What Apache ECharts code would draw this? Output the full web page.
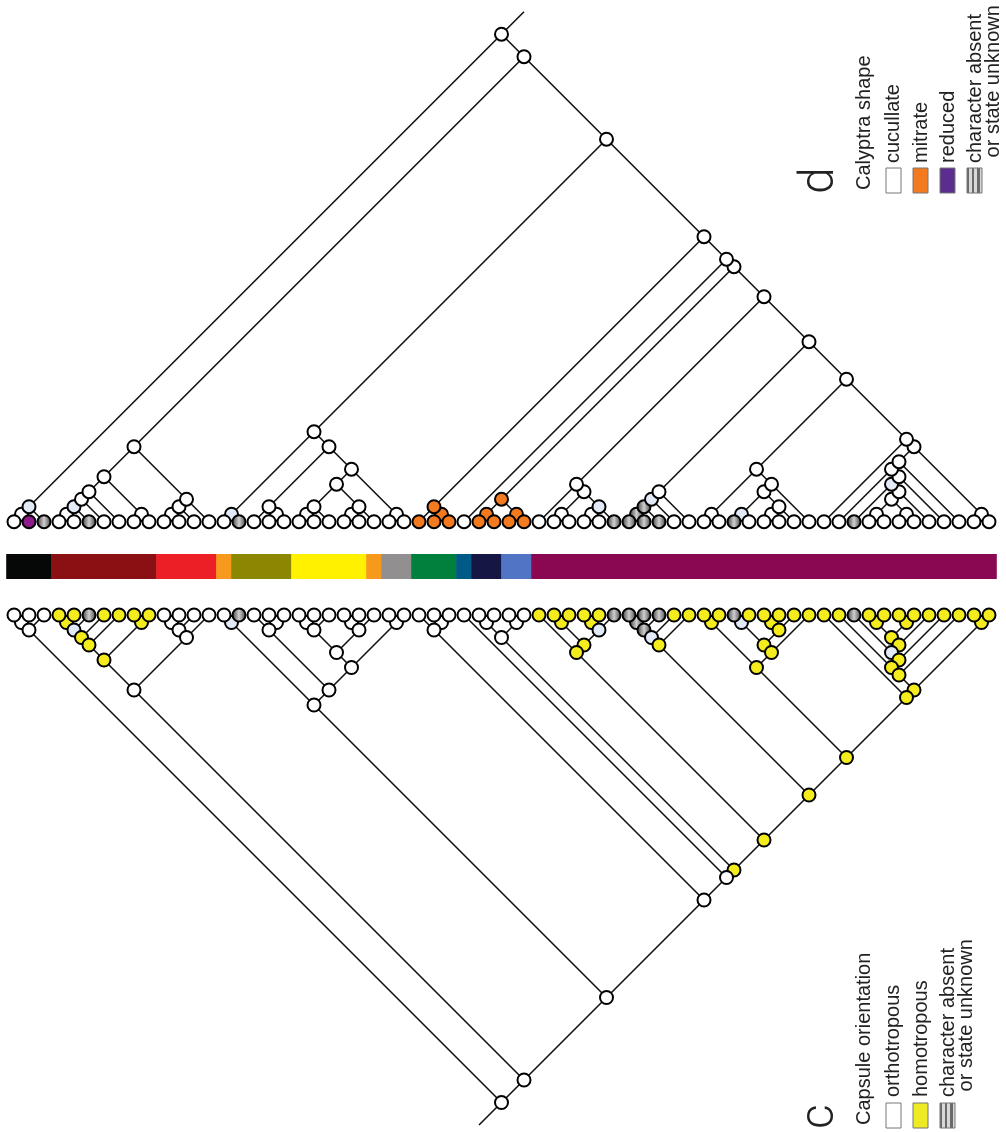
<!DOCTYPE html>
<html><head><meta charset="utf-8">
<script src="https://cdn.jsdelivr.net/npm/echarts@6/dist/echarts.min.js"></script>
<style>html,body{margin:0;padding:0;background:#fff}#c{width:1006px;height:1132px}</style>
</head><body><div id="c"></div>
<script>
// ---------- DATA ----------
// tree topology (tip numbers = left-to-right order of the 66 terminals)
const cladeA = "((0,1),2)";
const cladeB = "((((((3,4),5),6),7),(8,9)),(((10,11),12),13))";
const cladeC = "((14,15),((16,(17,18)),((((19,20),21),((22,23),24)),(25,26))))";
const clade46 = "(((46,47),(((48,49),((50,51),52)),53)),(54,(((55,((56,(((57,58),(59,60)),61)),62)),63),(64,65))))";
const clade41 = "(((((41,42),43),44),45)," + clade46 + ")";
const clade35 = "((35,((36,37),((38,39),40)))," + clade41 + ")";
const clade31 = "(((31,32),(33,34))," + clade35 + ")";
const cladeD = "((27,(28,29)),(30," + clade31 + "))";
const treeNewick = "(" + cladeA + ",(" + cladeB + ",(" + cladeC + "," + cladeD + ")))";

// state codes: w = white, o = orange, p = purple, g = absent/unknown, b = ambiguous (pale), y = yellow
const calyptraTips = "wpgwwgwwww" + "wwwwwgwwww" + "wwwwwwwooo" + "woooowwwww" + "ggggwwwwgw" + "wwwwwwgwww" + "wwwwww";
const calyptraNodes = [[0,2,'b'],[3,5,'b'],[14,15,'b'],[27,29,'o'],[28,29,'o'],[31,34,'o'],[31,32,'o'],[33,34,'o'],
  [38,40,'b'],[41,42,'g'],[41,43,'g'],[41,44,'b'],[48,49,'b'],[56,61,'b']];
const capsuleTips = "wwwyygyyyy" + "wwwwwgwwww" + "wwwwwwwwww" + "wwwwwyyyyy" + "ggggyyyygy" + "yyyyyygyyy" + "yyyyyy";
const capsuleNodes = [[3,4,'y'],[3,5,'b'],[3,6,'y'],[3,7,'y'],[3,9,'y'],[8,9,'y'],[14,15,'b'],[36,37,'y'],[38,39,'y'],
  [38,40,'b'],[36,40,'y'],[35,40,'y'],[41,42,'g'],[41,43,'g'],[41,44,'b'],[41,45,'y'],[46,47,'y'],[48,49,'b'],
  [50,51,'y'],[50,52,'y'],[48,52,'y'],[48,53,'y'],[46,53,'y'],[57,58,'y'],[59,60,'y'],[57,60,'y'],[57,61,'y'],
  [56,61,'b'],[56,62,'y'],[55,62,'y'],[55,63,'y'],[64,65,'y'],[55,65,'y'],[54,65,'y'],[46,65,'y'],[41,65,'y'],
  [35,65,'y'],[31,65,'y']];

// taxonomic colour bar: number of terminals per group and colours
const barCounts = [3,7,4,1,4,5,1,2,3,1,2,2,31];
const barColors = ['#050807','#8a1014','#ed1f26','#f7991c','#8c8700','#fff100','#f7991c','#918f90','#00803c','#005a87','#161645','#5274c4','#8a0752'];

// legends
const legendTop = {letter:'d', title:'Calyptra shape', labels:['cucullate','mitrate','reduced','character absent',' or state unknown'], codes:['w','o','r','g']};
const legendBottom = {letter:'c', title:'Capsule orientation', labels:['orthotropous','homotropous','character absent',' or state unknown'], codes:['w','y','g']};

// ---------- BUILD ----------
function parse(s){
  let i=0;
  function node(){
    if(s[i]==='('){
      i++; const kids=[node()];
      while(s[i]===','){ i++; kids.push(node()); }
      i++;
      return {kids, lo:kids[0].lo, hi:kids[kids.length-1].hi};
    }
    let t=''; while(/\d/.test(s[i])) t+=s[i++];
    const n=+t; return {tip:n, lo:n, hi:n};
  }
  return node();
}
const root = parse(treeNewick);
const internals=[], tips=[], edges=[];
(function walk(n){
  n.x=(n.lo+n.hi)/2; n.h=(n.hi-n.lo)/2;
  if(n.kids){ n.kids.forEach(k=>{ walk(k); edges.push([[n.x,n.h],[k.x,k.h]]); }); internals.push(n); }
  else tips.push(n);
})(root);

const grayGrad = {type:'linear',x:0,y:0,x2:1,y2:0,colorStops:[{offset:0,color:'#333'},{offset:0.5,color:'#cfcfcf'},{offset:1,color:'#3a3a3a'}]};
const stripe = {type:'linear',x:0,y:0,x2:1,y2:0,colorStops:(function(){const a=[];const n=6;for(let k=0;k<n;k++){const c=k%2?'#d8d8d8':'#6a6a6a';a.push({offset:k/n,color:c},{offset:(k+1)/n,color:c});}return a;})()};
const fills = {w:'#ffffff', o:'#f47a20', p:'#8d1b8c', r:'#5b2d8e', g:grayGrad, b:'#e3eaf7', y:'#f4ec1d'};
const legendFills = {w:'#ffffff', o:'#f47a20', r:'#5b2d8e', g:stripe, y:'#eeea24'};

function nodeData(nodeStates, tipStates){
  const m={}; nodeStates.forEach(s=>{m[s[0]+'-'+s[1]]=s[2];});
  const inner = internals.map(n=>({value:[n.x,n.h], itemStyle:{color:fills[m[n.lo+'-'+n.hi]||'w']}}));
  const tp = tips.map(n=>({value:[n.x,n.h], itemStyle:{color:fills[tipStates[n.tip]]}}));
  return inner.concat(tp);
}
const stemTop = [[root.x,root.h],[root.x+1.5,root.h+1.5]];
const stemBottom = [[root.x,root.h],[root.x-1.5,root.h+1.5]];

const segs=[]; let acc=0; barCounts.forEach((c,i)=>{segs.push({value:[acc,acc+c-1], itemStyle:{color:barColors[i]}}); acc+=c;});

const TIP=15, LEFT=14, W=65*TIP, TOPY=521.7, BOTY=615;
function lineSeries(ax, extra){
  return {type:'lines', coordinateSystem:'cartesian2d', xAxisIndex:ax, yAxisIndex:ax, polyline:false, silent:true, z:1,
    lineStyle:{color:'#111', width:1.6, opacity:1, curveness:0}, data: edges.concat([extra]).map(e=>({coords:e}))};
}
function nodeSeries(ax, data){
  return {type:'scatter', xAxisIndex:ax, yAxisIndex:ax, symbol:'circle', symbolSize:13, clip:false, silent:true, z:3,
    itemStyle:{borderColor:'#000', borderWidth:2, opacity:1}, data};
}

function legendGraphics(L, xs, yTitle, yItems, yBox){
  const g=[]; const font=s=>s+'px "Liberation Sans", Arial, sans-serif';
  g.push({type:'text', x:821, y:yTitle+4, rotation:Math.PI/2, style:{text:L.letter, font:'300 48px Roboto, "Liberation Sans", sans-serif', fill:'#222', align:'left', verticalAlign:'middle'}});
  g.push({type:'text', x:864, y:yTitle, rotation:Math.PI/2, style:{text:L.title, font:font(20), fill:'#222', align:'left', verticalAlign:'middle'}});
  L.labels.forEach((t,i)=>{ g.push({type:'text', x:xs[i], y:yItems, rotation:Math.PI/2, style:{text:t, font:font(20), fill:'#222', align:'left', verticalAlign:'middle'}}); });
  const bx=[886,913,940,967];
  L.codes.forEach((c,i)=>{ g.push({type:'rect', shape:{x:bx[i], y:yBox, width:15, height:25}, style:{fill:legendFills[c], stroke:'#777', lineWidth:1}}); });
  return g;
}

const chart = echarts.init(document.getElementById('c'), null, {renderer:'canvas'});
chart.setOption({
  backgroundColor:'#fff', animation:false,
  grid:[
    {left:LEFT, top:0, width:W, height:TOPY},
    {left:LEFT, top:BOTY, width:W, height:1132-BOTY},
    {left:LEFT, top:554, width:W, height:25}
  ],
  xAxis:[0,1,2].map(i=>({type:'value', gridIndex:i, min:0, max:65, show:false})),
  yAxis:[
    {type:'value', gridIndex:0, min:0, max:TOPY/TIP, show:false},
    {type:'value', gridIndex:1, min:0, max:(1132-BOTY)/TIP, inverse:true, show:false},
    {type:'value', gridIndex:2, min:0, max:1, show:false}
  ],
  series:[
    {type:'custom', xAxisIndex:2, yAxisIndex:2, silent:true, clip:false, encode:{x:[0,1]},
      renderItem:(p,api)=>{ const a=api.coord([api.value(0)-0.5,1]), b=api.coord([api.value(1)+0.5,0]);
        return {type:'rect', shape:{x:a[0]-0.3, y:a[1], width:b[0]-a[0]+0.6, height:b[1]-a[1]}, style:{fill:api.visual('color')}}; },
      data:segs},
    lineSeries(0, stemTop),
    lineSeries(1, stemBottom),
    nodeSeries(0, nodeData(calyptraNodes, calyptraTips)),
    nodeSeries(1, nodeData(capsuleNodes, capsuleTips))
  ],
  graphic: legendGraphics(legendTop, [893,921,948,975,993], 190, 163, 168)
    .concat(legendGraphics(legendBottom, [893,921,948,966], 1125, 1097, 1103))
});
</script></body></html>
